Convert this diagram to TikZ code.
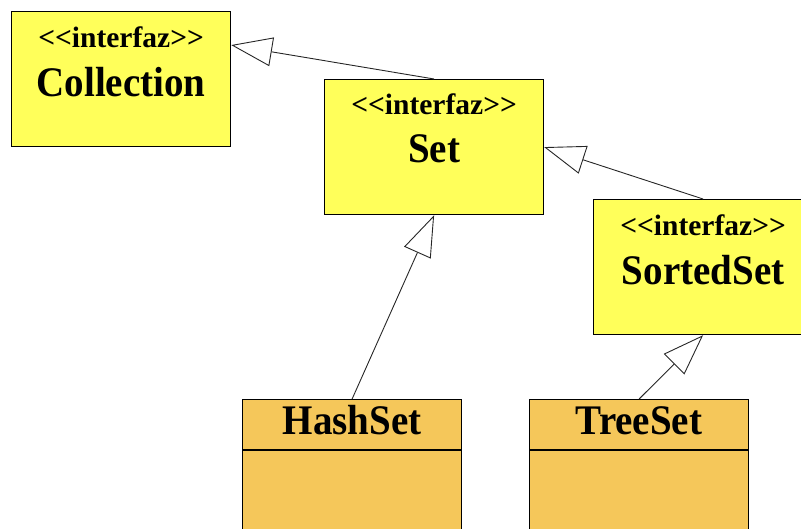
\documentclass[tikz,border=0pt]{standalone}
\usepackage{fontspec}
\setmainfont{Liberation Serif}
\usetikzlibrary{arrows.meta,calc}
\definecolor{ifyellow}{RGB}{255,255,90}
\definecolor{clsorange}{RGB}{245,199,90}
\newcommand{\stereotxt}{{<}{<}interfaz{>}{>}}
\tikzset{
  ifbox/.style={draw=black,line width=1.2pt,fill=ifyellow,minimum width=219pt,minimum height=135pt,anchor=north west,inner sep=0pt},
  clsbox/.style={draw=black,line width=1.2pt,fill=clsorange,minimum width=219pt,minimum height=140pt,anchor=north west,inner sep=0pt},
  stereo/.style={anchor=base,font=\bfseries\fontsize{29.5}{30}\selectfont,inner sep=0pt},
  cname/.style={anchor=base,font=\bfseries\fontsize{39}{39}\selectfont,inner sep=0pt},
  inherit/.style={draw=black!85,line width=0.9pt,-{Triangle[open,length=41pt,width=29pt,fill=white]}}
}
\newcommand{\tallname}[1]{\scalebox{1}[1.08]{#1}}
\begin{document}
\begin{tikzpicture}[x=1pt,y=-1pt]
\useasboundingbox (0,0) rectangle (801,528);
% boxes
\node[ifbox] (col) at (11,11) {};
\node[ifbox] (set) at (324,79) {};
\node[ifbox] (sorted) at (593,199) {};
\node[clsbox] (hash) at (242,399) {};
\node[clsbox] (tree) at (529,399) {};
% compartment lines
\coordinate (hashL) at ($(hash.north west)+(0,51)$);
\coordinate (hashR) at ($(hash.north east)+(0,51)$);
\coordinate (treeL) at ($(tree.north west)+(0,51)$);
\coordinate (treeR) at ($(tree.north east)+(0,51)$);
\draw[line width=1.2pt] (hashL) -- (hashR);
\draw[line width=1.2pt] (treeL) -- (treeR);
% texts
\node[stereo] (colS) at ($(col.north)+(0,36)$) {\stereotxt};
\node[cname] (colN) at ($(col.north)+(0,85)$) {\tallname{Collection}};
\node[stereo] (setS) at ($(set.north)+(0,35)$) {\stereotxt};
\node[cname] (setN) at ($(set.north)+(0,83)$) {\tallname{Set}};
\node[stereo] (sortedS) at ($(sorted.north)+(0,36)$) {\stereotxt};
\node[cname] (sortedN) at ($(sorted.north)+(0,85)$) {\tallname{SortedSet}};
\node[cname] (hashN) at ($(hash.north)+(0,35)$) {\tallname{HashSet}};
\node[cname] (treeN) at ($(tree.north)+(0,35)$) {\tallname{TreeSet}};
% inheritance arrows
\coordinate (colTip) at ($(col.north east)!0.25!(col.south east)$);
\draw[inherit] (set.north) -- (colTip);
\draw[inherit] (sorted.north) -- (set.east);
\draw[inherit] (hash.north) -- (set.south);
\draw[inherit] (tree.north) -- (sorted.south);
\end{tikzpicture}
\end{document}
